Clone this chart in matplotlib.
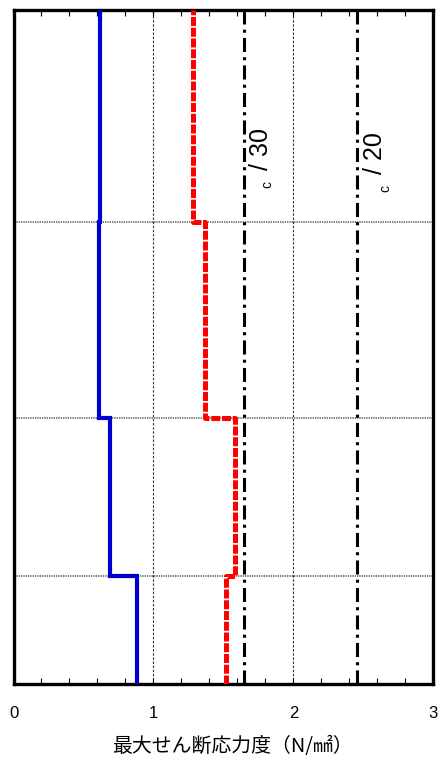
import matplotlib
matplotlib.use("Agg")
import matplotlib.pyplot as plt
from matplotlib.ticker import MultipleLocator, FixedLocator

# ---- data ----
levels = [0.0, 1.08, 2.66, 4.615, 6.735]          # section boundaries (bottom -> top)
blue_vals = [0.881, 0.690, 0.611, 0.617]          # bottom -> top segments
red_vals = [1.522, 1.580, 1.367, 1.285]
ref_lines = [1.645, 2.453]                        # sigma_c/30, sigma_c/20
ref_labels = ["30", "20"]
xticks = [0, 1, 2, 3]
xtick_labels = ["0", "1", "2", "3"]
xlabel = "最大せん断応力度（N/㎟）"

def step_path(vals, lv):
    xs, ys = [], []
    for i, v in enumerate(vals):
        xs += [v, v]
        ys += [lv[i], lv[i + 1]]
    return xs, ys

W, H = 445, 758
fig = plt.figure(figsize=(W / 100, H / 100), dpi=100)
left, right, top, bottom = 13.5, 433.3, 10, 683.5
ax = fig.add_axes([left / W, 1 - bottom / H, (right - left) / W, (bottom - top) / H])

ax.set_xlim(0, 3)
ax.set_ylim(levels[0], levels[-1])

# grid lines
for xv in [1, 2]:
    ax.axvline(xv, color="#333333", lw=0.8, dashes=(2.2, 1.5), zorder=1)
for yv in levels[1:-1]:
    ax.axhline(yv, color="#666666", lw=1.2, dashes=(0.8, 0.6), zorder=1)

# reference dash-dot lines
for xv in ref_lines:
    ax.axvline(xv, color="black", lw=2.2, dashes=(4.6, 1.7, 1.0, 1.7), zorder=2)

bx, by = step_path(blue_vals, levels)
ax.plot(bx, by, color="#0000CD", lw=3.0, solid_joinstyle="miter", zorder=4)
rx, ry = step_path(red_vals, levels)
ax.plot(rx, ry, color="#FF0000", lw=3.6, dashes=(1.8, 0.35), zorder=3)

# labels near reference lines
lab_font = ["Liberation Sans", "DejaVu Sans"]
pos_main = [(1.772, 5.13), (2.582, 5.09)]
pos_c = [(1.815, 4.995), (2.657, 4.945)]
for (mx, my), (cx, cy), lab in zip(pos_main, pos_c, ref_labels):
    ax.text(mx, my, "/ " + lab, rotation=90, ha="center", va="bottom",
            fontsize=18, family=lab_font, zorder=5)
    ax.text(cx, cy, "c", rotation=90, ha="center", va="center",
            fontsize=10, family=lab_font, zorder=5)

# spines & ticks
for s in ax.spines.values():
    s.set_linewidth(2.4)
ax.xaxis.set_major_locator(FixedLocator(xticks))
ax.set_xticklabels(xtick_labels, family=lab_font, fontsize=12)
ax.xaxis.set_minor_locator(MultipleLocator(0.2))
ax.tick_params(axis="x", which="both", direction="in", top=True, bottom=True,
               length=4.3, width=0.8, pad=16)
ax.set_yticks([])

ax.set_xlabel(xlabel, family=["Noto Sans CJK JP", "DejaVu Sans"], fontsize=14.3)
ax.xaxis.set_label_coords(0.522, -0.078)

fig.savefig("out.png", dpi=100)
